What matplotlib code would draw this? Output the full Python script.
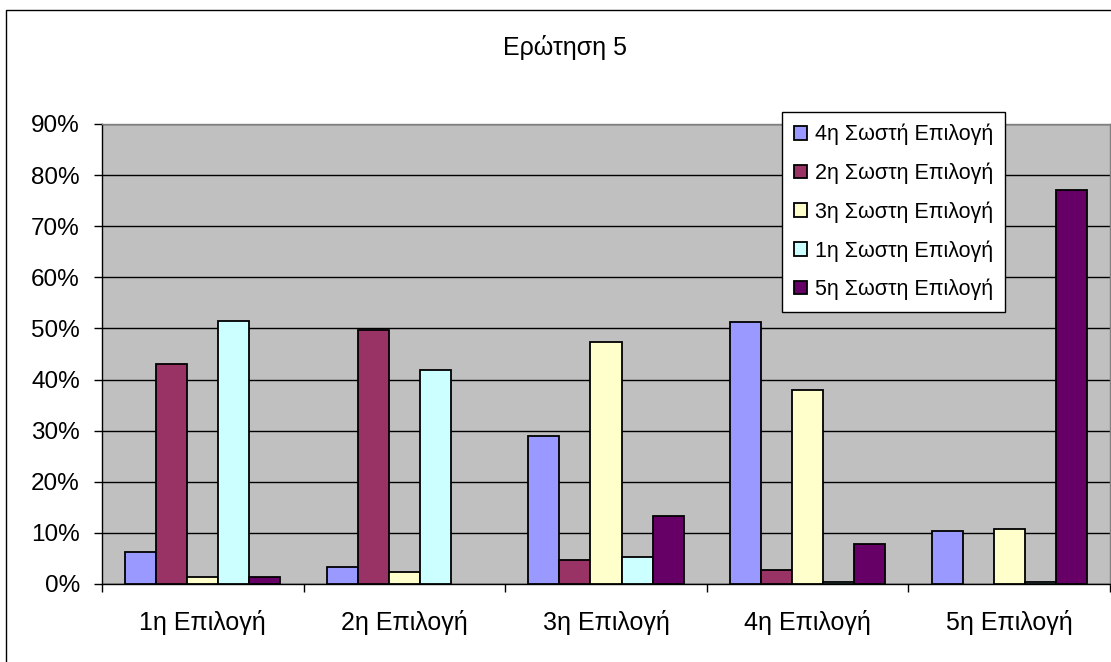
import numpy as np
import matplotlib
matplotlib.use("Agg")
import matplotlib.pyplot as plt
from matplotlib.patches import Rectangle
from matplotlib.ticker import FixedLocator

plt.rcParams['font.family'] = ['Liberation Sans', 'DejaVu Sans']

title = "Ερώτηση 5"
categories = ["1η Επιλογή", "2η Επιλογή", "3η Επιλογή", "4η Επιλογή", "5η Επιλογή"]
series_names = ["4η Σωστή Επιλογή", "2η Σωστη Επιλογή", "3η Σωστη Επιλογή",
                "1η Σωστη Επιλογή", "5η Σωστη Επιλογή"]
s4 = [6.2, 3.4, 29.0, 51.3, 10.4]
s2 = [43.0, 49.7, 4.6, 2.7, 0.0]
s3 = [1.4, 2.3, 47.4, 38.0, 10.8]
s1 = [51.5, 41.9, 5.3, 0.3, 0.3]
s5 = [1.4, 0.0, 13.3, 7.8, 77.1]
series_values = [s4, s2, s3, s1, s5]
colors = ["#9999FF", "#993366", "#FFFFCC", "#CCFFFF", "#660066"]
yticks = [0, 10, 20, 30, 40, 50, 60, 70, 80, 90]
ytick_labels = [f"{t}%" for t in yticks]

W, H = 1111, 662
fig = plt.figure(figsize=(W / 100, H / 100), dpi=100)
fig.patch.set_facecolor("white")

# outer chart frame
fig.add_artist(Rectangle((6 / W, -0.05), 1.1, (H - 10) / H + 0.05, transform=fig.transFigure,
                         fill=False, edgecolor="black", linewidth=1.0))

ax = fig.add_axes([102 / W, (H - 584) / H, (1110 - 102) / W, (584 - 124) / H])
ax.set_facecolor("#C0C0C0")
for sp in ax.spines.values():
    sp.set_color("#808080")
    sp.set_linewidth(1.0)
ax.spines['left'].set_color("black")
ax.spines['bottom'].set_color("black")

n = len(series_values)
w = 1 / 6.5
x = np.arange(len(categories))
for i, (vals, c) in enumerate(zip(series_values, colors)):
    v = np.array(vals, dtype=float)
    h = np.where(v > 0, v, np.nan)
    ax.bar(x + (i - (n - 1) / 2) * w, h, width=w, color=c, edgecolor="black",
           linewidth=1.3, label=series_names[i], zorder=3)

ax.set_xlim(-0.5, len(categories) - 0.5)
ax.set_ylim(0, 90)
ax.set_yticks(yticks)
ax.set_yticklabels(ytick_labels, fontsize=17.5)
ax.yaxis.grid(True, color="black", linewidth=1.0, zorder=1)
ax.set_axisbelow(True)

ax.set_xticks(x)
ax.set_xticklabels(categories, fontsize=18)
ax.tick_params(axis='x', which='major', length=0, pad=19)
ax.xaxis.set_minor_locator(FixedLocator(np.arange(-0.5, len(categories), 1.0)))
ax.tick_params(axis='x', which='minor', length=6, width=1, color="black")
ax.tick_params(axis='y', length=6, width=1, color="black", pad=10)

fig.text(565 / W, 1 - 47 / H, title, fontsize=18, ha="center", va="center")

leg = ax.legend(loc="upper left", bbox_to_anchor=((782 - 102) / (1110 - 102), 1 + (124 - 112) / (584 - 124)),
                fontsize=15.5, frameon=True, fancybox=False, edgecolor="black",
                handlelength=0.6, handleheight=0.6, handletextpad=0.4,
                labelspacing=0.8, borderpad=0.55, borderaxespad=0)
leg.get_frame().set_linewidth(1.0)
leg.get_frame().set_facecolor("white")
leg.get_frame().set_alpha(1)

fig.savefig("out.png", dpi=100)
